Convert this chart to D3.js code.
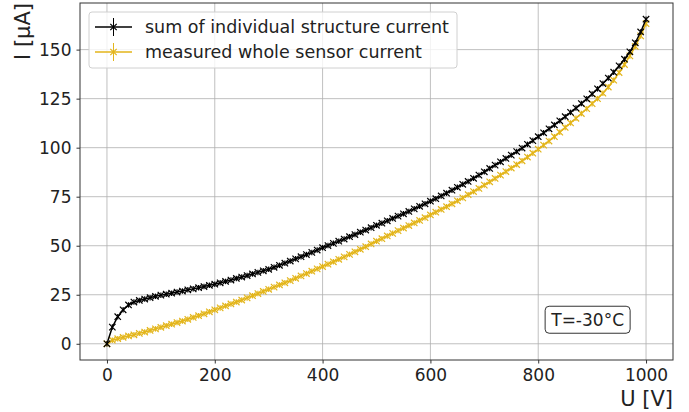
<!DOCTYPE html>
<html>
<head>
<meta charset="utf-8">
<script src="https://cdn.jsdelivr.net/npm/d3@7"></script>
<style>
  body { margin: 0; background: #fff; }
  text { font-family: "DejaVu Sans", sans-serif; fill: #222; }
</style>
</head>
<body>
<div id="chart"></div>
<script>
// bias voltage steps [V]
var voltage = d3.range(0, 1001, 10);

// sum of individual structure currents [uA]
var sumCurrent = [
  0.0, 8.5, 13.8, 17.3, 19.8, 21.3, 22.1, 22.8, 23.5, 24.2,
  24.8, 25.3, 25.8, 26.4, 26.9, 27.5, 28.0, 28.6, 29.2, 29.8,
  30.4, 31.1, 31.8, 32.5, 33.3, 34.0, 34.8, 35.6, 36.4, 37.2,
  38.0, 39.0, 40.0, 41.1, 42.2, 43.3, 44.4, 45.5, 46.6, 47.8,
  49.0, 50.1, 51.2, 52.3, 53.4, 54.6, 55.7, 56.9, 58.0, 59.2,
  60.4, 61.5, 62.7, 63.9, 65.1, 66.3, 67.5, 68.8, 70.1, 71.4,
  72.7, 74.0, 75.4, 76.8, 78.3, 79.8, 81.3, 82.8, 84.4, 86.0,
  87.7, 89.4, 91.1, 92.8, 94.5, 96.2, 98.0, 99.8, 101.7, 103.6,
  105.6, 107.6, 109.6, 111.6, 113.7, 115.8, 118.0, 120.2, 122.5, 124.9,
  127.4, 130.0, 132.7, 135.5, 138.5, 141.7, 145.1, 148.9, 153.5, 159.0,
  165.5
];

// measured whole sensor current [uA]
var sensorCurrent = [
  0.0, 1.8, 2.6, 3.3, 4.0, 4.6, 5.3, 6.0, 6.8, 7.6,
  8.4, 9.2, 10.0, 10.8, 11.6, 12.5, 13.4, 14.3, 15.3, 16.3,
  17.3, 18.3, 19.3, 20.3, 21.3, 22.3, 23.4, 24.5, 25.6, 26.7,
  27.8, 28.9, 30.0, 31.1, 32.2, 33.4, 34.6, 35.8, 37.0, 38.2,
  39.4, 40.6, 41.8, 43.1, 44.3, 45.6, 46.9, 48.2, 49.5, 50.9,
  52.3, 53.6, 55.0, 56.3, 57.7, 59.0, 60.3, 61.6, 62.9, 64.3,
  65.7, 67.1, 68.5, 69.9, 71.4, 72.9, 74.4, 76.0, 77.6, 79.2,
  80.9, 82.6, 84.3, 86.0, 87.8, 89.6, 91.4, 93.3, 95.2, 97.2,
  99.2, 101.3, 103.4, 105.6, 107.9, 110.3, 112.6, 115.0, 117.4, 119.9,
  122.4, 125.0, 127.8, 130.9, 134.4, 138.3, 142.4, 146.8, 151.6, 157.0,
  163.2
];

var errI = 1.4; // error bar half-length [uA]

var xTicks = [0, 200, 400, 600, 800, 1000];
var yTicks = [0, 25, 50, 75, 100, 125, 150];

var series = [
  {label: "sum of individual structure current", color: "#000000", values: sumCurrent},
  {label: "measured whole sensor current", color: "#e3b51a", values: sensorCurrent}
];

var width = 689, height = 412;
var margin = {top: 3, right: 16, bottom: 52, left: 80};
var w = width - margin.left - margin.right;
var h = height - margin.top - margin.bottom;
var fs = "17px";

var svg = d3.select("#chart").append("svg")
  .attr("width", width)
  .attr("height", height);

// matplotlib style 5% autoscale margins
var yAll = sumCurrent.concat(sensorCurrent);
var yMin = d3.min(yAll), yMax = d3.max(yAll);
var yPad = (yMax - yMin) * 0.05;
var x = d3.scaleLinear().domain([-50, 1050]).range([0, w]);
var y = d3.scaleLinear().domain([yMin - yPad, yMax + yPad]).range([h, 0]);

var g = svg.append("g")
  .attr("transform", "translate(" + margin.left + "," + margin.top + ")");

// grid
g.append("g").selectAll("line").data(xTicks).enter().append("line")
  .attr("x1", x).attr("x2", x).attr("y1", 0).attr("y2", h)
  .style("stroke", "#b0b0b0").style("stroke-width", 0.8);
g.append("g").selectAll("line").data(yTicks).enter().append("line")
  .attr("y1", y).attr("y2", y).attr("x1", 0).attr("x2", w)
  .style("stroke", "#b0b0b0").style("stroke-width", 0.8);

// axes
var xAxis = g.append("g")
  .attr("transform", "translate(0," + h + ")")
  .call(d3.axisBottom(x).tickValues(xTicks).tickFormat(d3.format("d")).tickSize(3.5).tickPadding(5));
var yAxis = g.append("g")
  .call(d3.axisLeft(y).tickValues(yTicks).tickFormat(d3.format("d")).tickSize(3.5).tickPadding(5));
[xAxis, yAxis].forEach(function(a) {
  a.select(".domain").remove();
  a.selectAll("line").style("stroke", "#333");
  a.selectAll("text").style("font-size", fs)
    .style("font-family", "DejaVu Sans, sans-serif").style("fill", "#222");
});

var line = d3.line()
  .x(function(d, i) { return x(voltage[i]); })
  .y(function(d) { return y(d); });

function xMarker(sel, s) {
  sel.append("path")
    .attr("d", "M-3.2,-3.2L3.2,3.2M-3.2,3.2L3.2,-3.2")
    .style("stroke", s.color).style("stroke-width", 1.2).style("fill", "none");
}

// draw yellow first so black sits on top like the reference
series.slice().reverse().forEach(function(s) {
  var sg = g.append("g");
  sg.append("path").datum(s.values)
    .attr("d", line)
    .style("fill", "none").style("stroke", s.color).style("stroke-width", 1.5);
  // error bars
  sg.selectAll("line.err").data(s.values).enter().append("line")
    .attr("class", "err")
    .attr("x1", function(d, i) { return x(voltage[i]); })
    .attr("x2", function(d, i) { return x(voltage[i]); })
    .attr("y1", function(d) { return y(d - errI); })
    .attr("y2", function(d) { return y(d + errI); })
    .style("stroke", s.color).style("stroke-width", 1.2);
  sg.selectAll("g.mk").data(s.values).enter().append("g")
    .attr("class", "mk")
    .attr("transform", function(d, i) { return "translate(" + x(voltage[i]) + "," + y(d) + ")"; })
    .each(function() { xMarker(d3.select(this), s); });
});

// frame
g.append("rect").attr("width", w).attr("height", h)
  .style("fill", "none").style("stroke", "#333").style("stroke-width", 1);

// legend
var lg = g.append("g").attr("transform", "translate(9,9)");
lg.append("rect").attr("width", 368).attr("height", 56).attr("rx", 3)
  .style("fill", "#fff").style("fill-opacity", 0.8)
  .style("stroke", "#d0d0d0").style("stroke-width", 1);
series.forEach(function(s, i) {
  var row = lg.append("g").attr("transform", "translate(0," + (15 + i * 25) + ")");
  row.append("line").attr("x1", 6).attr("x2", 43).attr("y1", 0).attr("y2", 0)
    .style("stroke", s.color).style("stroke-width", 1.5);
  row.append("line").attr("x1", 24.5).attr("x2", 24.5).attr("y1", -9).attr("y2", 9)
    .style("stroke", s.color).style("stroke-width", 1);
  var m = row.append("g").attr("transform", "translate(24.5,0)");
  xMarker(m, s);
  row.append("text").attr("x", 56).attr("y", 6)
    .style("font-size", "17.5px").text(s.label);
});

// temperature box
var tb = g.append("g").attr("transform", "translate(" + (x(900) - 47) + "," + (y(12) - 14) + ")");
tb.append("rect").attr("width", 85).attr("height", 27).attr("rx", 4)
  .style("fill", "#fff").style("stroke", "#333").style("stroke-width", 1);
tb.append("text").attr("x", 42.5).attr("y", 19.5).attr("text-anchor", "middle")
  .style("font-size", fs).text("T=-30°C");

// axis labels
svg.append("text")
  .attr("x", margin.left + w).attr("y", 406)
  .attr("text-anchor", "end")
  .style("font-size", "21px").text("U [V]");
svg.append("text")
  .attr("transform", "translate(30," + margin.top + ") rotate(-90)")
  .attr("text-anchor", "end")
  .style("font-size", "21px").text("I [µA]");
</script>
</body>
</html>
